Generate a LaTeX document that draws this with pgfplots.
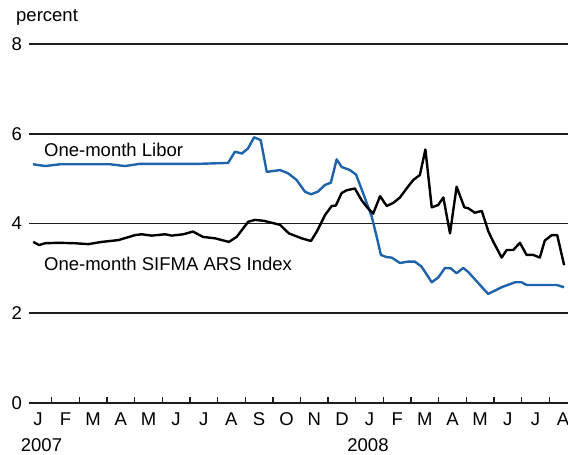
\documentclass[border=0pt]{standalone}
\usepackage{pgfplots}
\pgfplotsset{compat=1.18}
\usepackage{fontspec}
\setmainfont{Liberation Sans}
\definecolor{liborblue}{RGB}{31,99,173}
\definecolor{gridc}{RGB}{30,30,30}
\begin{document}
\fontsize{18.5}{21}\selectfont
\begin{tikzpicture}
\useasboundingbox (-29pt,-52pt) rectangle (539pt,403pt);
\begin{axis}[
  at={(0,0)}, anchor=south west,
  scale only axis, width=539pt, height=359pt,
  xmin=0.177, xmax=19.68, ymin=0, ymax=8,
  axis x line*=bottom, axis y line*=left,
  y axis line style={draw=none},
  x axis line style={line width=1.5pt, color=gridc},
  ytick={0,2,4,6,8},
  ytick style={draw=none},
  ymajorgrids, grid style={line width=1.8pt, color=gridc},
  xtick={0.5,1.5,2.5,3.5,4.5,5.5,6.5,7.5,8.5,9.5,10.5,11.5,12.5,13.5,14.5,15.5,16.5,17.5,18.5,19.5},
  xticklabels={J,F,M,A,M,J,J,A,S,O,N,D,J,F,M,A,M,J,J,A},
  minor xtick={1,2,3,4,5,6,7,8,9,10,11,12,13,14,15,16,17,18,19},
  major x tick style={draw=none},
  minor x tick style={line width=1.4pt, color=gridc},
  minor tick length=5.5pt,
  tick align=inside,
  /pgf/number format/assume math mode=true,
  ticklabel style={font=\fontsize{18.5}{21}\selectfont},
  yticklabel style={anchor=east, inner sep=0pt, xshift=-7pt},
  xticklabel style={anchor=base, inner sep=0pt, yshift=-23pt},
  clip=false,
  line join=round,
]
\addplot[liborblue, line width=2.4pt] coordinates {
(0.32,5.32) (0.76,5.28) (1.30,5.32) (3.11,5.32) (3.65,5.28) (4.19,5.33)
(6.36,5.33) (7.38,5.35) (7.63,5.60) (7.88,5.56) (8.10,5.67) (8.32,5.92)
(8.56,5.86) (8.78,5.15) (9.26,5.19) (9.55,5.12) (9.86,4.97) (10.16,4.71)
(10.38,4.65) (10.63,4.71) (10.89,4.86) (11.10,4.91) (11.31,5.43) (11.49,5.26)
(11.79,5.19) (12.01,5.09) (12.27,4.67) (12.58,4.15) (12.76,3.70) (12.91,3.30)
(13.12,3.25) (13.30,3.24) (13.60,3.12) (13.89,3.15) (14.14,3.15) (14.38,3.04)
(14.75,2.69) (14.99,2.80) (15.23,3.01) (15.44,3.00) (15.65,2.89) (15.89,3.01)
(16.07,2.92) (16.79,2.43) (17.28,2.58) (17.76,2.69) (18.00,2.69) (18.18,2.63)
(19.27,2.63) (19.54,2.58)
};
\addplot[black, line width=2.4pt] coordinates {
(0.33,3.59) (0.54,3.52) (0.76,3.56) (1.23,3.57) (1.84,3.56) (2.32,3.54)
(2.81,3.59) (3.41,3.63) (4.01,3.74) (4.25,3.76) (4.62,3.73) (5.10,3.76)
(5.34,3.73) (5.76,3.76) (6.11,3.82) (6.48,3.70) (6.91,3.67) (7.41,3.59)
(7.69,3.70) (8.11,4.04) (8.35,4.08) (8.68,4.06) (9.26,3.97) (9.58,3.78)
(10.04,3.67) (10.38,3.61) (10.59,3.82) (10.89,4.19) (11.13,4.39) (11.28,4.40)
(11.49,4.68) (11.67,4.74) (11.97,4.78) (12.21,4.52) (12.40,4.37) (12.63,4.22)
(12.88,4.61) (13.12,4.39) (13.36,4.46) (13.60,4.58) (13.84,4.78) (14.08,4.97)
(14.32,5.08) (14.52,5.65) (14.75,4.36) (14.98,4.41) (15.17,4.58) (15.41,3.78)
(15.65,4.82) (15.93,4.36) (16.07,4.34) (16.31,4.24) (16.56,4.28) (16.80,3.82)
(16.98,3.59) (17.28,3.24) (17.46,3.41) (17.70,3.41) (17.94,3.57) (18.18,3.30)
(18.42,3.30) (18.66,3.24) (18.84,3.62) (19.09,3.74) (19.29,3.74) (19.54,3.07)
};
\node[anchor=base west, inner sep=0pt] at (axis cs:0.72,5.50) {One-month Libor};
\node[anchor=base west, inner sep=0pt] at (axis cs:0.72,2.96) {One-month SIFMA ARS Index};
\end{axis}
\node[anchor=base west, inner sep=0pt] at (-13pt,381pt) {percent};
\node[anchor=base, inner sep=0pt] at (12.5pt,-48.7pt) {2007};
\node[anchor=base, inner sep=0pt] at (339pt,-48.7pt) {2008};
\end{tikzpicture}
\end{document}
